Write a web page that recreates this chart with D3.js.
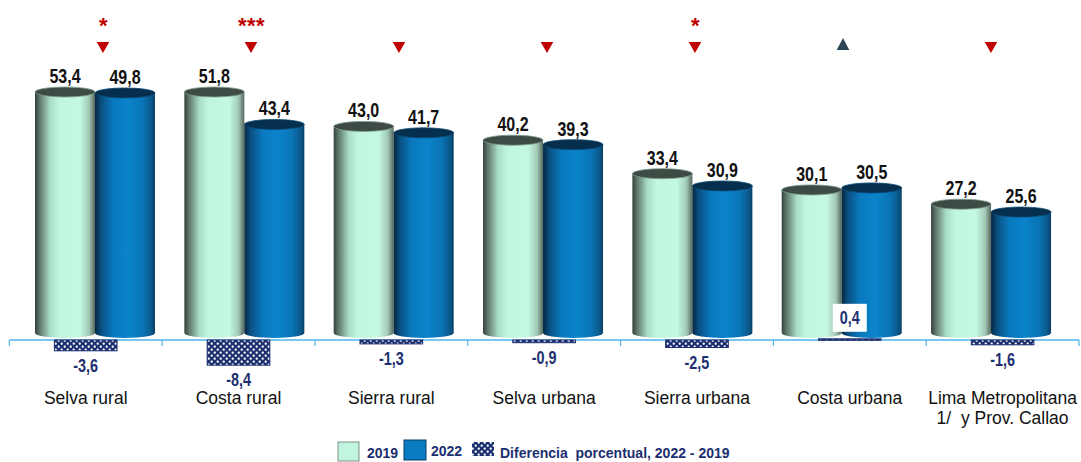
<!DOCTYPE html>
<html><head><meta charset="utf-8">
<script src="https://cdn.jsdelivr.net/npm/d3@7"></script>
<style>body{margin:0;background:#fff}svg{display:block}</style>
</head><body><svg id="chart" width="1081" height="462"></svg>
<script>
const categories = ["Selva rural","Costa rural","Sierra rural","Selva urbana","Sierra urbana","Costa urbana","Lima Metropolitana|1/  y Prov. Callao"];
const series = ["2019","2022"];
const values2019 = [53.4,51.8,43.0,40.2,33.4,30.1,27.2];
const values2022 = [49.8,43.4,41.7,39.3,30.9,30.5,25.6];
const differences = [-3.6,-8.4,-1.3,-0.9,-2.5,0.4,-1.6];
const significance = ["*","***","","","*","",""];
const direction = ["down","down","down","down","down","up","down"];
const legendLabels = ["2019","2022","Diferencia  porcentual, 2022 - 2019"];

const fmt = v => d3.format(".1f")(v).replace(".", ",").replace("\u2212", "-");
const svg = d3.select("#chart");
const defs = svg.append("defs");

function grad(id, stops){
  const g = defs.append("linearGradient").attr("id", id).attr("x1","0%").attr("x2","100%").attr("y1","0%").attr("y2","0%");
  stops.forEach(s => g.append("stop").attr("offset", s[0]).attr("stop-color", s[1]));
}
grad("g2019", [["0%","#33413a"],["8%","#60796d"],["25%","#a9dcc6"],["40%","#c0f6df"],["75%","#c3f8e2"],["90%","#a2c9b7"],["100%","#56675e"]]);
grad("g2022", [["0%","#05263f"],["10%","#0a4f80"],["30%","#0a78bd"],["55%","#0a84cc"],["80%","#0a74b5"],["94%","#0a588a"],["100%","#083f66"]]);
const pat = defs.append("pattern").attr("id","checker").attr("patternUnits","userSpaceOnUse").attr("width",6).attr("height",6);
pat.append("rect").attr("width",6).attr("height",6).attr("fill","#1c2f70");
pat.append("rect").attr("x",0.6).attr("y",0.6).attr("width",2.2).attr("height",2.2).attr("rx",0.8).attr("fill","#fff");
pat.append("rect").attr("x",3.6).attr("y",3.6).attr("width",2.2).attr("height",2.2).attr("rx",0.8).attr("fill","#fff");

const fills = {"2019":"url(#g2019)","2022":"url(#g2022)"};
const topFills = {"2019":"#3d4b44","2022":"#062f4e"};

const xCat = d3.scaleBand().domain(categories).range([9.3, 1079]);
const xCyl = d3.scaleBand().domain(categories).range([20.3, 1065.7]);
const xSer = d3.scaleBand().domain(series).range([14.7, 134.7]);
const xMark = d3.scalePoint().domain(categories).range([103, 991]);
const y = d3.scaleLinear().domain([0, 50]).range([338, 92]).clamp(true);
const yd = d3.scaleLinear().domain([-10, 10]).range([370, 310]);

const ry = 5;
const bottomY = y(0) - ry;
const narrow = (sel, x, yy) => sel.attr("transform", `translate(${x},${yy}) scale(0.8,1)`);

// cylinders
const rows = [];
categories.forEach((c,i) => {
  rows.push({c, s:"2019", v: values2019[i]});
  rows.push({c, s:"2022", v: values2022[i]});
});
const cyl = svg.append("g").selectAll("g").data(rows).join("g");
cyl.each(function(d){
  const g = d3.select(this);
  const x0 = xCyl(d.c) + xSer(d.s);
  const w = xSer.bandwidth();
  const rx = w/2;
  const yt = y(d.v);
  g.append("path")
    .attr("d", `M${x0},${yt} L${x0},${bottomY} A${rx},${ry} 0 0 0 ${x0+w},${bottomY} L${x0+w},${yt} Z`)
    .attr("fill", fills[d.s]);
  g.append("ellipse").attr("cx", x0+rx).attr("cy", yt).attr("rx", rx).attr("ry", ry)
    .attr("fill", topFills[d.s]).attr("stroke", d.s==="2019" ? "#7d9a8b" : "#0b4a73").attr("stroke-width", 0.8);
  narrow(g.append("text"), x0+rx, yt - ry - 4)
    .attr("text-anchor","middle")
    .attr("font-family","'Liberation Sans',Arial,sans-serif")
    .attr("font-weight","bold").attr("font-size", 20).attr("fill","#111")
    .text(fmt(d.v));
});

// axis line and ticks
const axisY = yd(0);
svg.append("line").attr("x1", xCat.range()[0]).attr("x2", xCat.range()[1])
  .attr("y1", axisY).attr("y2", axisY).attr("stroke","#4fb3e8").attr("stroke-width",1.5);
const bounds = categories.map(c => xCat(c)).concat([xCat.range()[1]]);
svg.append("g").selectAll("line").data(bounds).join("line")
  .attr("x1", d=>d).attr("x2", d=>d).attr("y1", axisY).attr("y2", axisY+6)
  .attr("stroke","#4fb3e8").attr("stroke-width",1.2);

// difference bars
const dw = xCat.bandwidth()*0.41;
const diffs = categories.map((c,i)=>({c, v: differences[i]}));
svg.append("g").selectAll("rect").data(diffs).join("rect")
  .attr("x", d => xCat(d.c) + (xCat.bandwidth()-dw)/2)
  .attr("y", d => Math.min(yd(d.v), yd(0)))
  .attr("width", dw)
  .attr("height", d => Math.max(1.5, Math.abs(yd(d.v)-yd(0))))
  .attr("fill", "url(#checker)").attr("stroke","#1c2f70").attr("stroke-width",1);

const dl = svg.append("g").selectAll("g").data(diffs).join("g");
dl.each(function(d){
  const g = d3.select(this);
  const cx = xCat(d.c) + xCat.bandwidth()/2;
  if (d.v < 0) {
    narrow(g.append("text"), cx, yd(d.v) + 21)
      .attr("text-anchor","middle")
      .attr("font-family","'Liberation Sans',Arial,sans-serif")
      .attr("font-weight","bold").attr("font-size",18).attr("fill","#1c2f70")
      .text(fmt(d.v));
  } else {
    const by = yd(d.v) - 35;
    g.append("rect").attr("x", cx-17).attr("y", by).attr("width", 34).attr("height", 28).attr("fill","#fff");
    narrow(g.append("text"), cx, by + 20)
      .attr("text-anchor","middle")
      .attr("font-family","'Liberation Sans',Arial,sans-serif")
      .attr("font-weight","bold").attr("font-size",18).attr("fill","#1c2f70")
      .text(fmt(d.v));
  }
});

// category labels
const cl = svg.append("g").selectAll("text").data(categories).join("text")
  .attr("x", d => xCat(d) + xCat.bandwidth()/2)
  .attr("y", 404)
  .attr("text-anchor","middle")
  .attr("font-family","'Liberation Sans',Arial,sans-serif")
  .attr("font-size",17.5).attr("fill","#111");
cl.each(function(d){
  const t = d3.select(this);
  const x = xCat(d) + xCat.bandwidth()/2;
  d.split("|").forEach((line,j) => t.append("tspan").attr("x", x).attr("dy", j===0?0:20).attr("xml:space","preserve").text(line));
});

// significance markers
const mk = categories.map((c,i)=>({c, sig: significance[i], dir: direction[i]}));
const mg = svg.append("g").selectAll("g").data(mk).join("g");
mg.each(function(d){
  const g = d3.select(this);
  const cx = xMark(d.c);
  if (d.dir === "down") {
    g.append("path").attr("d", `M${cx-6.3},42 L${cx+6.3},42 L${cx},53 Z`).attr("fill","#c00000");
  } else {
    g.append("path").attr("d", `M${cx-6.3},50 L${cx+6.3},50 L${cx},38 Z`).attr("fill","#2c4656");
  }
  if (d.sig) {
    g.append("text").attr("x", cx + 0.5).attr("y", 33).attr("text-anchor","middle")
      .attr("font-family","'Liberation Sans',Arial,sans-serif").attr("font-weight","bold")
      .attr("font-size",22).attr("fill","#c00000").attr("letter-spacing", 0.5).text(d.sig);
  }
});

// legend
const lg = svg.append("g").attr("font-family","'Liberation Sans',Arial,sans-serif").attr("font-weight","bold").attr("font-size",14).attr("fill","#1c2f70");
lg.append("rect").attr("x",338).attr("y",442).attr("width",21).attr("height",19).attr("fill","#c2f5df").attr("stroke","#7f8f88").attr("stroke-width",1);
lg.append("text").attr("x",367).attr("y",458).text(legendLabels[0]);
lg.append("rect").attr("x",404).attr("y",440).attr("width",22).attr("height",20).attr("fill","#0a7cc2").attr("stroke","#0b3d62").attr("stroke-width",1);
lg.append("text").attr("x",431).attr("y",456).text(legendLabels[1]);
lg.append("rect").attr("x",472).attr("y",442).attr("width",22).attr("height",14).attr("fill","url(#checker)");
lg.append("text").attr("x",500).attr("y",458).attr("xml:space","preserve").text(legendLabels[2]);
</script></body></html>
